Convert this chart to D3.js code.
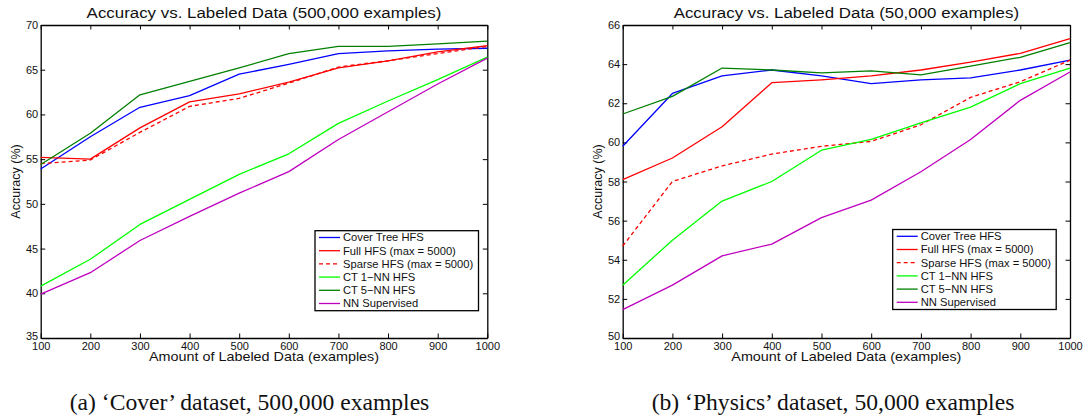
<!DOCTYPE html>
<meta charset="utf-8">
<style>
body { margin: 0; background: #fff; }
.axis path, .axis line { stroke: #000; }
.axis path { stroke-width: 1.3px; }
.axis line { stroke-width: 1px; }
.axis text { font-family: "Liberation Sans", Arial, sans-serif; font-size: 11px; fill: #111; }
.series { fill: none; stroke-width: 1.3px; stroke-linejoin: round; }
</style>
<body>
<script src="https://d3js.org/d3.v7.min.js"></script>
<script>

// amount of labeled data (x categories)
var labeled = [100, 200, 300, 400, 500, 600, 700, 800, 900, 1000];

// (a) Cover dataset, 500,000 examples
var coverCoverTree = [53.9, 57.5, 60.8, 62.1, 64.5, 65.6, 66.8, 67.1, 67.3, 67.4];
var coverFull      = [55.2, 55.0, 58.5, 61.4, 62.3, 63.6, 65.2, 66.0, 67.0, 67.7];
var coverSparse    = [54.5, 54.9, 58.0, 60.9, 61.8, 63.5, 65.3, 66.0, 66.8, 67.6];
var coverCT1       = [40.8, 43.8, 47.7, 50.5, 53.3, 55.6, 59.0, 61.5, 63.9, 66.4];
var coverCT5       = [54.4, 57.9, 62.2, 63.7, 65.2, 66.8, 67.6, 67.6, 67.9, 68.2];
var coverNN        = [39.9, 42.3, 45.9, 48.6, 51.2, 53.6, 57.2, 60.3, 63.4, 66.3];

// (b) Physics dataset, 50,000 examples
var physCoverTree = [59.8, 62.5, 63.4, 63.7, 63.4, 63.0, 63.2, 63.3, 63.7, 64.2];
var physFull      = [58.1, 59.2, 60.8, 63.05, 63.2, 63.4, 63.7, 64.1, 64.55, 65.3];
var physSparse    = [54.7, 58.0, 58.8, 59.4, 59.8, 60.05, 60.9, 62.3, 63.1, 64.2];
var physCT1       = [52.7, 55.0, 57.0, 58.0, 59.6, 60.15, 61.0, 61.8, 63.0, 63.8];
var physCT5       = [61.45, 62.35, 63.8, 63.7, 63.55, 63.65, 63.45, 63.9, 64.35, 65.1];
var physNN        = [51.45, 52.7, 54.2, 54.8, 56.15, 57.05, 58.5, 60.15, 62.15, 63.6];

var seriesNames = ["Cover Tree HFS", "Full HFS (max = 5000)", "Sparse HFS (max = 5000)",
                   "CT 1\u2212NN HFS", "CT 5\u2212NN HFS", "NN Supervised"];
var seriesColors = ["#0000ff", "#ff0000", "#ff0000", "#00ff00", "#008000", "#bf00bf"];
var seriesDash = [null, null, "4,3", null, null, null];

var coverTicks = [35, 40, 45, 50, 55, 60, 65, 70];
var physTicks = [50, 52, 54, 56, 58, 60, 62, 64, 66];

var svg = d3.select("body").append("svg")
    .attr("width", 1089)
    .attr("height", 417);

// text with a small horizontal stretch (the figure was widened a little)
function label(g, x, y, str, size, sx, family) {
  return g.append("text")
    .attr("transform", "translate(" + x + "," + y + ") scale(" + sx + ",1)")
    .attr("text-anchor", "middle")
    .style("font-family", family || "'Liberation Sans', Arial, sans-serif")
    .style("font-size", size + "px")
    .style("fill", "#111")
    .text(str);
}

function drawPanel(p) {
  var x = d3.scaleLinear().domain([100, 1000]).range([p.left, p.right]);
  var y = d3.scaleLinear().domain(p.yDomain).range([338, 25]);

  // axes, ticks inward on all four sides
  svg.append("g").attr("class", "axis")
    .attr("transform", "translate(0,338)")
    .call(d3.axisBottom(x).tickValues(labeled).tickFormat(d3.format("d"))
      .tickSizeInner(-4.5).tickSizeOuter(0).tickPadding(4));
  svg.append("g").attr("class", "axis")
    .attr("transform", "translate(0,25)")
    .call(d3.axisTop(x).tickValues(labeled).tickSizeInner(-4.5).tickSizeOuter(0).tickFormat(""));
  var gy = svg.append("g").attr("class", "axis")
    .attr("transform", "translate(" + p.left + ",0)")
    .call(d3.axisLeft(y).tickValues(p.ticks).tickSizeInner(-4.5).tickSizeOuter(0).tickPadding(2.5));
  // lowest label sits a little higher, as in the original
  gy.selectAll(".tick text").filter(function(d) { return d === p.yDomain[0]; })
    .attr("dy", "0.1em");
  svg.append("g").attr("class", "axis")
    .attr("transform", "translate(" + p.right + ",0)")
    .call(d3.axisRight(y).tickValues(p.ticks).tickSizeInner(-4.5).tickSizeOuter(0).tickFormat(""));

  var line = d3.line()
    .x(function(d, i) { return x(labeled[i]); })
    .y(function(d) { return y(d); });

  p.series.forEach(function(s, i) {
    svg.append("path")
      .attr("class", "series")
      .attr("d", line(s))
      .style("stroke", seriesColors[i])
      .style("stroke-dasharray", seriesDash[i]);
  });

  var mid = (p.left + p.right) / 2;
  label(svg, mid, 17.5, p.title, 15.5, 1.09);
  label(svg, mid, 361, "Amount of Labeled Data (examples)", 12.5, 1.15);

  svg.append("text")
    .attr("transform", "translate(" + (p.left - 20.3) + ",181.5) rotate(-90)")
    .attr("text-anchor", "middle")
    .style("font-family", "'Liberation Sans', Arial, sans-serif")
    .style("font-size", "12.5px")
    .style("fill", "#111")
    .text("Accuracy (%)");

  label(svg, p.captionX, 410, p.caption, 22.5, 1.05, "'Liberation Serif', 'Times New Roman', serif");

  // legend
  var lg = svg.append("g").attr("transform", "translate(" + p.legendX + "," + p.legendY + ")");
  lg.append("rect")
    .attr("width", 163.5).attr("height", 80)
    .style("fill", "#fff").style("stroke", "#000").style("stroke-width", 1.3);
  seriesNames.forEach(function(name, i) {
    var yy = 6.8 + i * 13.2;
    lg.append("line")
      .attr("x1", 4).attr("x2", 25).attr("y1", yy).attr("y2", yy)
      .style("stroke", seriesColors[i]).style("stroke-width", 1.3)
      .style("stroke-dasharray", seriesDash[i]);
    lg.append("text")
      .attr("x", 28).attr("y", yy).attr("dy", "0.35em")
      .style("font-family", "'Liberation Sans', Arial, sans-serif")
      .style("font-size", "11.2px")
      .style("fill", "#111")
      .text(name);
  });
}

drawPanel({
  left: 40.7, right: 487.3, yDomain: [35, 70], ticks: coverTicks,
  series: [coverCoverTree, coverFull, coverSparse, coverCT1, coverCT5, coverNN],
  title: "Accuracy vs. Labeled Data (500,000 examples)",
  caption: "(a) \u2018Cover\u2019 dataset, 500,000 examples", captionX: 249.5,
  legendX: 315, legendY: 230.7
});

drawPanel({
  left: 622.7, right: 1070, yDomain: [50, 66], ticks: physTicks,
  series: [physCoverTree, physFull, physSparse, physCT1, physCT5, physNN],
  title: "Accuracy vs. Labeled Data (50,000 examples)",
  caption: "(b) \u2018Physics\u2019 dataset, 50,000 examples", captionX: 833,
  legendX: 892.7, legendY: 229.5
});

</script>
</body>
</html>
